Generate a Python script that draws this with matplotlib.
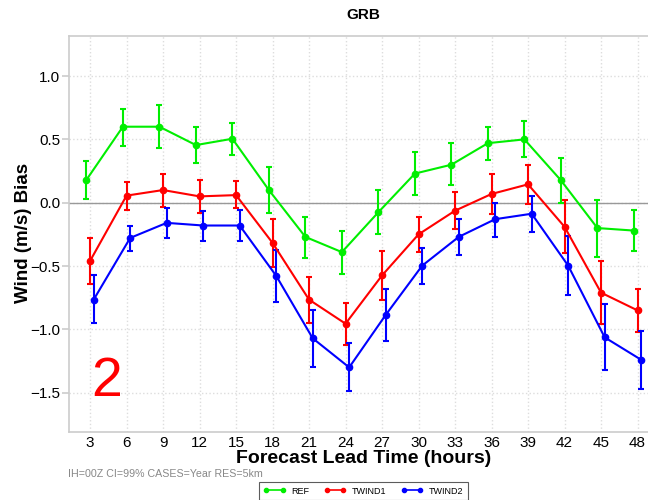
import matplotlib
matplotlib.use("Agg")
import matplotlib.pyplot as plt
from matplotlib.lines import Line2D
import numpy as np

plt.rcParams['font.family'] = ['Liberation Sans', 'DejaVu Sans']

# forecast lead times (hours)
lead = [3, 6, 9, 12, 15, 18, 21, 24, 27, 30, 33, 36, 39, 42, 45, 48]

# REF
ref = [0.18, 0.60, 0.60, 0.455, 0.505, 0.10, -0.27, -0.39, -0.075, 0.23, 0.30, 0.47, 0.50, 0.177, -0.20, -0.22]
ref_lo = [0.03, 0.45, 0.43, 0.31, 0.38, -0.08, -0.44, -0.56, -0.25, 0.06, 0.14, 0.34, 0.36, 0.0, -0.43, -0.38]
ref_hi = [0.33, 0.74, 0.77, 0.60, 0.63, 0.28, -0.11, -0.22, 0.10, 0.40, 0.47, 0.60, 0.645, 0.35, 0.02, -0.06]

# TWIND1
tw1 = [-0.46, 0.056, 0.10, 0.05, 0.06, -0.317, -0.765, -0.955, -0.574, -0.25, -0.063, 0.069, 0.145, -0.19, -0.71, -0.85]
tw1_lo = [-0.64, -0.06, -0.03, -0.08, -0.045, -0.51, -0.95, -1.12, -0.77, -0.39, -0.21, -0.09, -0.01, -0.40, -0.96, -1.02]
tw1_hi = [-0.275, 0.167, 0.23, 0.18, 0.17, -0.125, -0.585, -0.79, -0.38, -0.11, 0.087, 0.23, 0.30, 0.02, -0.46, -0.68]

# TWIND2
tw2 = [-0.765, -0.278, -0.159, -0.18, -0.18, -0.577, -1.07, -1.30, -0.886, -0.497, -0.27, -0.13, -0.087, -0.497, -1.063, -1.24]
tw2_lo = [-0.95, -0.38, -0.275, -0.30, -0.30, -0.78, -1.30, -1.49, -1.095, -0.64, -0.415, -0.27, -0.23, -0.73, -1.32, -1.47]
tw2_hi = [-0.574, -0.18, -0.04, -0.066, -0.06, -0.37, -0.85, -1.105, -0.68, -0.36, -0.13, 0.0, 0.05, -0.26, -0.80, -1.016]

names = ['REF', 'TWIND1', 'TWIND2']
colors = ['#00ee00', '#ff0000', '#0000ff']
offsets = [-0.3, 0.0, 0.3]

fig = plt.figure(figsize=(6.48, 5.0), dpi=100)
ax = fig.add_axes([68.5/648, 1-432/500, (648-68.5)/648, (432-35.5)/500])

series = [(ref, ref_lo, ref_hi), (tw1, tw1_lo, tw1_hi), (tw2, tw2_lo, tw2_hi)]
x = np.array(lead, dtype=float)
for (vals, lo, hi), name, col, off in zip(series, names, colors, offsets):
    vals = np.array(vals)
    yerr = [vals - np.array(lo), np.array(hi) - vals]
    ax.errorbar(x + off, vals, yerr=yerr, color=col, linewidth=1.5,
                marker='o', markersize=4.5, capsize=2.5, capthick=1.5,
                elinewidth=1.5, zorder=3)

ax.axhline(0, color='#999999', linewidth=1, zorder=1)

ax.set_xlim(1.23, 48.86)
ax.set_ylim(-1.81, 1.32)
ax.set_xticks(lead)
ax.set_yticks([-1.5, -1.0, -0.5, 0.0, 0.5, 1.0])
ax.set_yticklabels(['\u22121.5', '\u22121.0', '\u22120.5', '0.0', '0.5', '1.0'])
ax.grid(True, linestyle=':', color='#dddddd', linewidth=1)
ax.set_axisbelow(True)

ax.spines['right'].set_visible(False)
for s in ['left', 'top', 'bottom']:
    ax.spines[s].set_color('#cccccc')
    ax.spines[s].set_linewidth(1.2)
ax.tick_params(axis='both', labelsize=11, color='#cccccc', length=5, width=1.2)
ax.tick_params(axis='y', pad=1)
ax.tick_params(axis='x', length=0, pad=3)

ax.set_title('GRB', fontsize=11, fontweight='bold', x=(363.5-68.5)/579.5, pad=12)
ax.set_xlabel('Forecast Lead Time (hours)', fontsize=14, fontweight='bold')
ax.xaxis.set_label_coords((363.5-68.5)/579.5, (432-450)/396.5)
ax.set_ylabel('Wind (m/s) Bias', fontsize=13.5, fontweight='bold')
ax.yaxis.set_label_coords((32-68.5)/579.5, (432-233)/396.5)

ax.text((107-68.5)/579.5, 0.125, '2', transform=ax.transAxes, color='#ff0000',
        fontsize=40, ha='center', va='center')

fig.text(68/648, 1-474/500, 'IH=00Z CI=99% CASES=Year RES=5km', color='#888888',
         fontsize=7.7, ha='left', va='center')

handles = [Line2D([0], [0], color=c, linewidth=1.2, marker='o', markersize=3,
                  markevery=[1]) for c in colors]
leg = fig.legend(handles, names, loc='center', bbox_to_anchor=(363.5/648, 1-491/500),
                 ncol=3, fontsize=6.5, frameon=True, fancybox=False,
                 edgecolor='#333333', handlelength=2.4, numpoints=2,
                 columnspacing=1.6, borderpad=0.5, handletextpad=0.7)
leg.get_frame().set_linewidth(0.8)

fig.savefig('out.png', dpi=100)
